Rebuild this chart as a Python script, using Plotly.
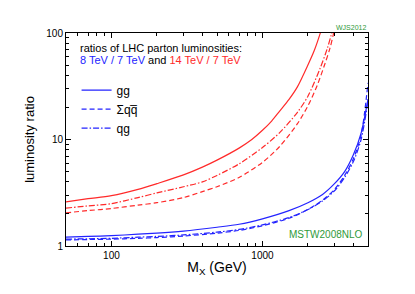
import plotly.graph_objects as go

# 8 TeV / 7 TeV ratios (blue)
x_blue = [50, 70, 100, 150, 200, 300, 500, 700, 1000, 1500, 2000, 2500, 3000, 3500, 4000, 4500, 5000]
blue_gg = [1.21, 1.23, 1.25, 1.29, 1.32, 1.38, 1.50, 1.60, 1.80, 2.15, 2.55, 3.05, 3.85, 5.0, 7.2, 11.5, 24]
blue_qq = [1.14, 1.15, 1.16, 1.18, 1.20, 1.24, 1.32, 1.40, 1.55, 1.82, 2.20, 2.70, 3.40, 4.6, 6.6, 11.0, 34]
blue_qg = [1.16, 1.17, 1.18, 1.21, 1.23, 1.27, 1.35, 1.43, 1.58, 1.85, 2.20, 2.65, 3.30, 4.4, 6.2, 10.0, 23]

# 14 TeV / 7 TeV ratios (red)
x_red_gg = [50, 70, 100, 150, 200, 300, 400, 500, 700, 850, 1000, 1150, 1300, 1500, 1700, 2000, 2200, 2400, 2500]
red_gg = [2.6, 2.78, 2.97, 3.4, 3.85, 4.65, 5.5, 6.4, 8.3, 10.0, 12.2, 14.9, 18.5, 23.8, 31, 50, 68, 97, 118]
x_red_qg = [50, 70, 100, 150, 200, 300, 400, 500, 700, 1000, 1300, 1700, 2000, 2400, 2700, 2850, 2950]
red_qg = [2.27, 2.38, 2.5, 2.85, 3.15, 3.6, 4.0, 4.6, 5.9, 8.4, 11.6, 17.9, 25.5, 46, 73, 95, 112]
x_red_qq = [50, 70, 100, 150, 200, 300, 400, 500, 700, 1000, 1300, 1700, 2000, 2300, 2600, 2800, 2950, 3050]
red_qq = [2.05, 2.15, 2.25, 2.42, 2.55, 2.85, 3.24, 3.6, 4.4, 6.1, 8.6, 14, 20.7, 32, 52, 72, 97, 115]

BLUE = "#2323ff"
RED = "#ff2a2a"
GREEN = "#2f9a3a"
DASH = "5px,3px"
DASHDOT = "6px,2px,1.5px,2px"


def line(color, dash=None):
    d = dict(color=color, width=1.2, shape="spline", smoothing=0.8)
    if dash:
        d["dash"] = dash
    return d


fig = go.Figure()
fig.add_trace(go.Scatter(x=x_red_gg, y=red_gg, mode="lines", line=line(RED), showlegend=False))
fig.add_trace(go.Scatter(x=x_red_qq, y=red_qq, mode="lines", line=line(RED, DASH), showlegend=False))
fig.add_trace(go.Scatter(x=x_red_qg, y=red_qg, mode="lines", line=line(RED, DASHDOT), showlegend=False))
fig.add_trace(go.Scatter(x=x_blue, y=blue_gg, mode="lines", name="gg", line=line(BLUE)))
fig.add_trace(go.Scatter(x=x_blue, y=blue_qq, mode="lines", name="\u03a3qq\u0305", line=line(BLUE, DASH)))
fig.add_trace(go.Scatter(x=x_blue, y=blue_qg, mode="lines", name="qg", line=line(BLUE, DASHDOT)))

FONT = "Liberation Sans, Arial, sans-serif"

axis_common = dict(
    type="log", showgrid=False, zeroline=False,
    showline=True, linecolor="black", linewidth=1, mirror="allticks",
    ticks="inside", ticklen=5, tickcolor="black", tickwidth=1,
    tickfont=dict(size=10, color="black", family=FONT),
)

fig.update_xaxes(
    **axis_common,
    range=[1.69897, 3.69897],
    tickvals=[100, 1000], ticktext=["100", "1000"],
    minor=dict(ticks="inside", ticklen=3, tickcolor="black",
               tickvals=[60, 70, 80, 90, 200, 300, 400, 500, 600, 700, 800, 900, 2000, 3000, 4000]),
    title=dict(text="M<sub>X</sub> (GeV)", font=dict(size=14, color="black", family=FONT), standoff=2),
)
fig.update_yaxes(
    **axis_common,
    range=[0, 2],
    tickvals=[1, 10, 100], ticktext=["1", "10", "100"],
    minor=dict(ticks="inside", ticklen=3, tickcolor="black",
               tickvals=[2, 3, 4, 5, 6, 7, 8, 9, 20, 30, 40, 50, 60, 70, 80, 90]),
    title=dict(text="luminosity ratio", font=dict(size=13, color="black", family=FONT), standoff=8),
)

fig.add_annotation(xref="paper", yref="paper", x=0.04, y=0.93, xanchor="left", yanchor="middle",
                   text="ratios of LHC parton luminosities:", showarrow=False,
                   font=dict(size=11, color="black", family=FONT))
fig.add_annotation(xref="paper", yref="paper", x=0.04, y=0.872, xanchor="left", yanchor="middle",
                   text="<span style='color:#2323ff'>8 TeV / 7 TeV</span> and <span style='color:#ff2a2a'>14 TeV / 7 TeV</span>",
                   showarrow=False, font=dict(size=11, color="black", family=FONT))
fig.add_annotation(xref="paper", yref="paper", x=0.99, y=0.055, xanchor="right", yanchor="middle",
                   text="MSTW2008NLO", showarrow=False, font=dict(size=10, color=GREEN, family=FONT))
fig.add_annotation(xref="paper", yref="paper", x=1.0, y=1.0, xanchor="right", yanchor="bottom",
                   text="WJS2012", showarrow=False, font=dict(size=7, color=GREEN, family=FONT))

fig.update_layout(
    width=415, height=294,
    margin=dict(l=58, r=55, t=25, b=56),
    paper_bgcolor="white", plot_bgcolor="white",
    showlegend=True,
    legend=dict(x=0.035, y=0.8, xanchor="left", yanchor="top", bgcolor="rgba(0,0,0,0)",
                font=dict(size=12, color="black", family=FONT), tracegroupgap=0),
    hovermode=False,
)

fig.write_html("out.html")
